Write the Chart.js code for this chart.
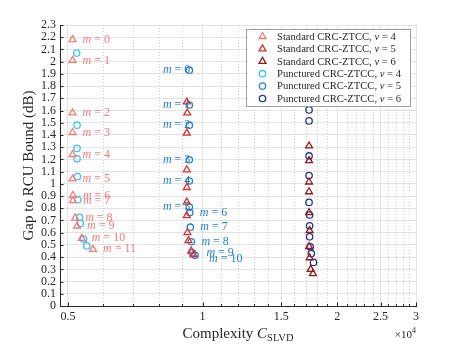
<!DOCTYPE html>
<html>
<head>
<meta charset="utf-8">
<script src="https://cdn.jsdelivr.net/npm/chart.js@4.4.1/dist/chart.umd.min.js"></script>
<style>
  html, body { margin: 0; padding: 0; background: #fff; }
  canvas { display: block; }
</style>
</head>
<body>
<canvas id="myChart" width="460" height="345"></canvas>
<script>
// complexity in units of 1e4, gap in dB
const stdV4X = [0.512, 0.512, 0.512, 0.512, 0.512, 0.512, 0.513, 0.513, 0.519, 0.524, 0.537, 0.569];
const stdV4Y = [2.18, 2.01, 1.58, 1.42, 1.24, 1.04, 0.905, 0.862, 0.72, 0.655, 0.554, 0.464];
const stdV4M = [0, 1, 2, 3, 4, 5, 6, 7, 8, 9, 10, 11];

const stdV5X = [0.922, 0.924, 0.922, 0.922, 0.922, 0.922, 0.922, 0.925, 0.93, 0.943, 0.954];
const stdV5Y = [1.67, 1.58, 1.415, 1.115, 0.97, 0.85, 0.74, 0.60, 0.535, 0.45, 0.42];

const stdV6X = [1.73, 1.73, 1.73, 1.73, 1.73, 1.735, 1.73, 1.735, 1.745, 1.765];
const stdV6Y = [1.31, 1.19, 1.015, 0.935, 0.765, 0.618, 0.487, 0.395, 0.30, 0.265];

const pncV4X = [0.523, 0.524, 0.524, 0.524, 0.525, 0.526, 0.531, 0.533, 0.542, 0.551];
const pncV4Y = [2.07, 1.48, 1.29, 1.205, 1.06, 0.87, 0.725, 0.676, 0.548, 0.492];

const pncV5X = [0.934, 0.934, 0.934, 0.934, 0.934, 0.934, 0.936, 0.939, 0.944, 0.949, 0.962];
const pncV5Y = [1.93, 1.645, 1.48, 1.197, 1.023, 0.81, 0.765, 0.645, 0.526, 0.436, 0.415];
const pncV5M = [0, 1, 2, 3, 4, 5, 6, 7, 8, 9, 10];

const pncV6X = [1.73, 1.73, 1.73, 1.73, 1.73, 1.735, 1.735, 1.735, 1.74, 1.75, 1.77];
const pncV6Y = [1.605, 1.515, 1.228, 1.068, 0.848, 0.745, 0.656, 0.566, 0.485, 0.43, 0.357];

const seriesNames = ['Standard CRC-ZTCC', 'Standard CRC-ZTCC', 'Standard CRC-ZTCC',
                     'Punctured CRC-ZTCC', 'Punctured CRC-ZTCC', 'Punctured CRC-ZTCC'];
const seriesV = [4, 5, 6, 4, 5, 6];

const xMajorTicks = [0.5, 1, 1.5, 2, 2.5, 3];
const xMinorTicks = [0.6, 0.7, 0.8, 0.9, 1.1, 1.2, 1.3, 1.4, 1.6, 1.7, 1.8, 1.9,
                     2.1, 2.2, 2.3, 2.4, 2.6, 2.7, 2.8, 2.9];
const yTicks = [0, 0.1, 0.2, 0.3, 0.4, 0.5, 0.6, 0.7, 0.8, 0.9, 1, 1.1, 1.2,
                1.3, 1.4, 1.5, 1.6, 1.7, 1.8, 1.9, 2, 2.1, 2.2, 2.3];

const serif = '"Liberation Serif", "DejaVu Serif", serif';
const ink = '#262626';
const colors = ['#f27c7c', '#d63030', '#8a1c1c', '#45c0ef', '#2a7fcc', '#27368c'];

const pts = (xs, ys) => xs.map((x, i) => ({ x: x, y: ys[i] }));

const makeSet = (i, xs, ys) => {
  const tri = i < 3;
  return {
    label: seriesNames[i] + ', v = ' + seriesV[i],
    data: pts(xs, ys),
    pointStyle: tri ? 'triangle' : 'circle',
    pointRadius: tri ? 4 : 3.2,
    borderWidth: 1.3,
    borderColor: colors[i],
    backgroundColor: 'rgba(0,0,0,0)',
    pointHoverRadius: 0
  };
};

// draws pieces of text one after another, some italic
function richText(ctx, parts, x, y, size, align) {
  let w = 0;
  parts.forEach(p => {
    ctx.font = (p.it ? 'italic ' : '') + (p.size || size) + 'px ' + serif;
    p.w = ctx.measureText(p.t).width;
    w += p.w;
  });
  let cx = align === 'right' ? x - w : align === 'center' ? x - w / 2 : x;
  parts.forEach(p => {
    ctx.font = (p.it ? 'italic ' : '') + (p.size || size) + 'px ' + serif;
    ctx.fillText(p.t, cx, y + (p.dy || 0));
    cx += p.w;
  });
}

const overlay = {
  id: 'overlay',
  beforeDatasetsDraw(chart) {
    const { ctx, chartArea: a, scales: { x } } = chart;
    ctx.save();
    ctx.strokeStyle = '#cfcfcf';
    ctx.lineWidth = 1;
    ctx.setLineDash([1, 2]);
    xMinorTicks.forEach(v => {
      const px = Math.round(x.getPixelForValue(v)) + 0.5;
      ctx.beginPath();
      ctx.moveTo(px, a.top);
      ctx.lineTo(px, a.bottom);
      ctx.stroke();
    });
    ctx.restore();
  },
  afterDraw(chart) {
    const { ctx, chartArea: a, scales: { x, y } } = chart;
    ctx.save();

    // inward tick marks
    ctx.strokeStyle = ink;
    ctx.lineWidth = 1;
    yTicks.forEach(v => {
      const py = Math.round(y.getPixelForValue(v)) + 0.5;
      ctx.beginPath(); ctx.moveTo(a.left, py); ctx.lineTo(a.left + 3.5, py); ctx.stroke();
    });
    xMajorTicks.forEach(v => {
      const px = Math.round(x.getPixelForValue(v)) + 0.5;
      ctx.beginPath(); ctx.moveTo(px, a.bottom); ctx.lineTo(px, a.bottom - 3.5); ctx.stroke();
    });
    xMinorTicks.forEach(v => {
      const px = Math.round(x.getPixelForValue(v)) + 0.5;
      ctx.beginPath(); ctx.moveTo(px, a.bottom); ctx.lineTo(px, a.bottom - 2); ctx.stroke();
    });

    // m labels
    ctx.textBaseline = 'middle';
    ctx.fillStyle = colors[0];
    stdV4M.forEach((m, i) => {
      const px = x.getPixelForValue(stdV4X[i]) + 10;
      const py = y.getPixelForValue(stdV4Y[i]);
      richText(ctx, [{ t: 'm', it: true }, { t: ' = ' + m }], px, py, 12, 'left');
    });
    ctx.fillStyle = colors[4];
    pncV5M.forEach((m, i) => {
      const cx = x.getPixelForValue(pncV5X[i]);
      let py = y.getPixelForValue(pncV5Y[i]);
      const parts = [{ t: 'm', it: true }, { t: ' = ' + m }];
      if (i <= 5) {
        richText(ctx, parts, cx + 1, py, 12, 'right');
      } else {
        const last = i === pncV5M.length - 1;
        richText(ctx, parts, cx + (i > 8 ? 14 : 10), py + (last ? 4 : 0), 12, 'left');
      }
    });

    // legend box
    const lx = 246.5, ly = 29.5, lw = 164, lh = 77;
    ctx.fillStyle = '#fff';
    ctx.fillRect(lx, ly, lw, lh);
    ctx.strokeStyle = '#a0a0a0';
    ctx.strokeRect(lx, ly, lw, lh);
    chart.data.datasets.forEach((ds, i) => {
      const ry = 36.5 + i * 12.4;
      ctx.strokeStyle = ds.borderColor;
      ctx.fillStyle = 'rgba(0,0,0,0)';
      ctx.lineWidth = ds.borderWidth;
      Chart.helpers.drawPoint(ctx, {
        pointStyle: ds.pointStyle, radius: ds.pointRadius, rotation: 0, borderWidth: ds.borderWidth
      }, 262.5, ry);
      ctx.fillStyle = ink;
      ctx.textBaseline = 'middle';
      richText(ctx, [{ t: seriesNames[i] + ', ' }, { t: 'v', it: true }, { t: ' = ' + seriesV[i] }],
               277, ry + 0.5, 10.6, 'left');
    });

    // axis titles
    ctx.fillStyle = ink;
    ctx.textBaseline = 'alphabetic';
    richText(ctx, [{ t: 'Complexity ' }, { t: 'C', it: true },
                   { t: 'SLVD', size: 10.5, dy: 3 }], (a.left + a.right) / 2, 338, 15, 'center');
    richText(ctx, [{ t: '\u00d710' }, { t: '4', size: 8, dy: -5 }], a.right, 338, 11, 'right');

    ctx.translate(29, (a.top + a.bottom) / 2);
    ctx.rotate(-Math.PI / 2);
    ctx.textAlign = 'center';
    ctx.textBaseline = 'middle';
    ctx.font = '15px ' + serif;
    ctx.fillText('Gap to RCU Bound (dB)', 0, 0);
    ctx.restore();
  }
};

new Chart(document.getElementById('myChart').getContext('2d'), {
  type: 'scatter',
  data: {
    datasets: [
      makeSet(0, stdV4X, stdV4Y),
      makeSet(1, stdV5X, stdV5Y),
      makeSet(2, stdV6X, stdV6Y),
      makeSet(3, pncV4X, pncV4Y),
      makeSet(4, pncV5X, pncV5Y),
      makeSet(5, pncV6X, pncV6Y)
    ]
  },
  options: {
    responsive: false,
    animation: false,
    devicePixelRatio: 1,
    layout: { padding: { top: 25, right: 44, left: 0, bottom: 0 } },
    plugins: { legend: { display: false }, tooltip: { enabled: false } },
    scales: {
      x: {
        type: 'logarithmic',
        min: 0.48,
        max: 3,
        afterBuildTicks: s => { s.ticks = xMajorTicks.map(v => ({ value: v })); },
        afterFit: s => { s.height = 39; },
        ticks: {
          autoSkip: false, maxRotation: 0, padding: 4, color: ink,
          font: { family: serif, size: 12 },
          callback: v => String(v)
        },
        grid: { color: '#e3e3e3', drawTicks: false },
        border: { color: ink }
      },
      y: {
        min: 0,
        max: 2.3,
        afterBuildTicks: s => { s.ticks = yTicks.map(v => ({ value: v })); },
        afterFit: s => { s.width = 60; },
        ticks: {
          autoSkip: false, padding: 4, color: ink,
          font: { family: serif, size: 12 },
          callback: v => String(v)
        },
        grid: { color: '#e3e3e3', drawTicks: false },
        border: { color: ink }
      }
    }
  },
  plugins: [overlay]
});
</script>
</body>
</html>
